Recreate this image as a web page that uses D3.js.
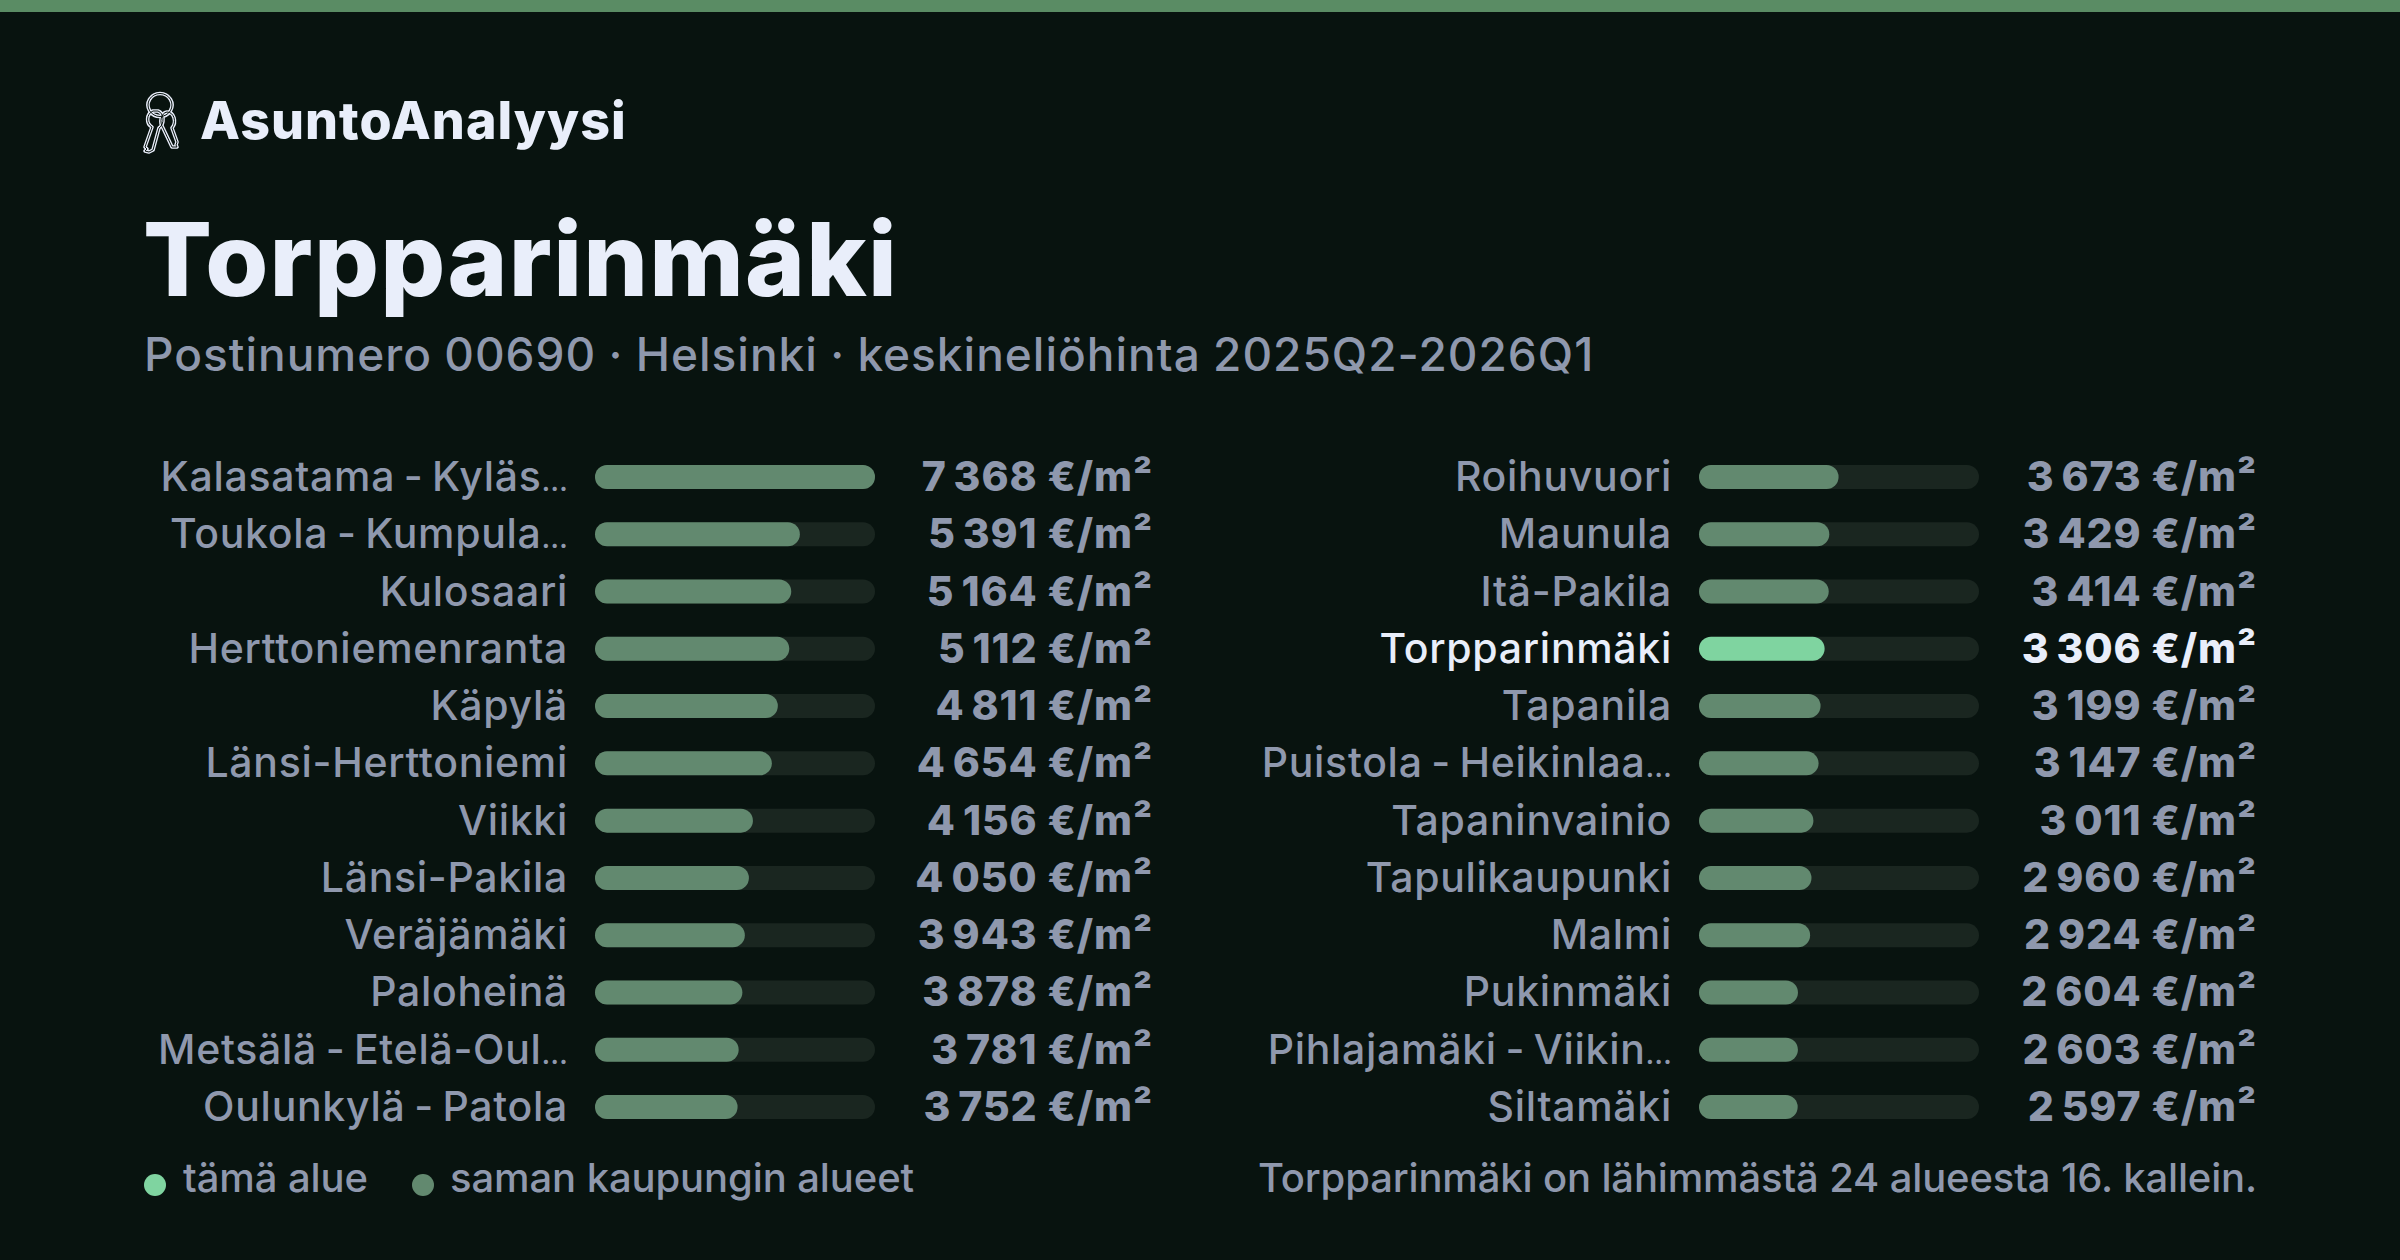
<!DOCTYPE html>
<html><head><meta charset="utf-8">
<script src="https://cdnjs.cloudflare.com/ajax/libs/d3/7.9.0/d3.min.js"></script>
<style>html,body{margin:0;padding:0;background:#08130f}svg{display:block}text{font-family:Inter,"Liberation Sans",sans-serif}</style>
</head><body><svg id="c" width="2400" height="1260"></svg>
<script>
const namesLeft=["Kalasatama - Kyläs…","Toukola - Kumpula…","Kulosaari","Herttoniemenranta","Käpylä","Länsi-Herttoniemi","Viikki","Länsi-Pakila","Veräjämäki","Paloheinä","Metsälä - Etelä-Oul…","Oulunkylä - Patola"];
const valuesLeft=[7368,5391,5164,5112,4811,4654,4156,4050,3943,3878,3781,3752];
const namesRight=["Roihuvuori","Maunula","Itä-Pakila","Torpparinmäki","Tapanila","Puistola - Heikinlaa…","Tapaninvainio","Tapulikaupunki","Malmi","Pukinmäki","Pihlajamäki - Viikin…","Siltamäki"];
const valuesRight=[3673,3429,3414,3306,3199,3147,3011,2960,2924,2604,2603,2597];
const highlight="Torpparinmäki";
const legendLabels=["tämä alue","saman kaupungin alueet"];
const titleText="Torpparinmäki";
const brandText="AsuntoAnalyysi";
const subtitleText="Postinumero 00690 · Helsinki · keskineliöhinta 2025Q2-2026Q1";
const footerText="Torpparinmäki on lähimmästä 24 alueesta 16. kallein.";

const C={bg:"#08130f",top:"#5a8c64",track:"#1a2620",bar:"#62896f",hi:"#7fd4a0",text:"#8f98ad",white:"#e9eefa"};
const svg=d3.select("#c");
svg.append("rect").attr("width",2400).attr("height",1260).attr("fill",C.bg);
svg.append("rect").attr("width",2400).attr("height",12).attr("fill",C.top);

const fmt=d3.formatLocale({decimal:",",thousands:"\u2009",grouping:[3],currency:["","€"]}).format(",d");
const allMax=d3.max(valuesLeft.concat(valuesRight));
const rows=d3.range(12);
const y=d3.scalePoint().domain(rows).range([477,1107]);
const barH=24;

function column(names,values,x0){
  const x=d3.scaleLinear().domain([0,allMax]).range([0,280]);
  const g=svg.append("g").attr("transform",`translate(${x0},0)`);
  const r=g.selectAll("g").data(names.map((n,i)=>({n,v:values[i],i}))).join("g")
    .attr("transform",d=>`translate(0,${y(d.i)})`);
  const lab=r.append("text").attr("x",-27).attr("y",14).attr("text-anchor","end").attr("font-size",41).attr("font-weight",450)
    .attr("letter-spacing",0.7).attr("word-spacing",-3)
    .attr("fill",d=>d.n===highlight?C.white:C.text);
  lab.append("tspan").text(d=>d.n.replace("…",""));
  lab.filter(d=>d.n.endsWith("…")).append("tspan").attr("font-size",29).attr("letter-spacing",0).text("…");
  r.append("rect").attr("y",-barH/2).attr("width",x.range()[1]).attr("height",barH).attr("rx",12).attr("fill",C.track);
  r.append("rect").attr("y",-barH/2).attr("width",d=>x(d.v)).attr("height",barH).attr("rx",12).attr("fill",d=>d.n===highlight?C.hi:C.bar);
  r.append("text").attr("x",558).attr("y",14).attr("text-anchor","end").attr("font-size",41).attr("font-weight",800)
    .attr("letter-spacing",0.9)
    .attr("fill",d=>d.n===highlight?C.white:C.text).text(d=>fmt(d.v)+" €/m²");
}
column(namesLeft,valuesLeft,595);
column(namesRight,valuesRight,1699);

svg.append("text").attr("x",200).attr("y",139).attr("font-size",52).attr("font-weight",800).attr("letter-spacing",1).attr("fill",C.white).text(brandText);
svg.append("text").attr("x",143).attr("y",296).attr("font-size",102).attr("font-weight",800).attr("letter-spacing",1.2).attr("fill",C.white).text(titleText);
svg.append("text").attr("x",144).attr("y",371).attr("font-size",46).attr("font-weight",450).attr("letter-spacing",1).attr("word-spacing",-1).attr("fill",C.text).text(subtitleText);

[[155,C.hi,183,0],[423,C.bar,450,1]].forEach(([cx,col,tx,i])=>{
  svg.append("circle").attr("cx",cx).attr("cy",1185).attr("r",11).attr("fill",col);
  svg.append("text").attr("x",tx).attr("y",1192).attr("font-size",40).attr("font-weight",450).attr("letter-spacing",-0.1).attr("fill",C.text).text(legendLabels[i]);
});
svg.append("text").attr("x",2257).attr("y",1192).attr("text-anchor","end").attr("font-size",40).attr("font-weight",450).attr("letter-spacing",-0.15).attr("fill",C.text).text(footerText);

// keys icon
const icon=svg.append("g").attr("transform","translate(144,92)").attr("fill","none").attr("stroke-linejoin","round");
const keyPaths=[
 "M16 1.5a12 11.5 0 1 0 .01 0Z",
 "M9 19C2 22 2 32 8 35L1 55L3 57L1 59L5 60L9 58L15 36C21 32 20 21 14 19Z",
 "M23 20C30 20 33 30 28 36L33 50L32 53L33 55L28 55L19 36C15 30 17 21 23 20Z"];
[[C.white,3.6],[C.bg,1]].forEach(([s,w])=>{
  keyPaths.forEach(d=>icon.append("path").attr("d",d).attr("stroke",s).attr("stroke-width",w));
});
</script></body></html>
